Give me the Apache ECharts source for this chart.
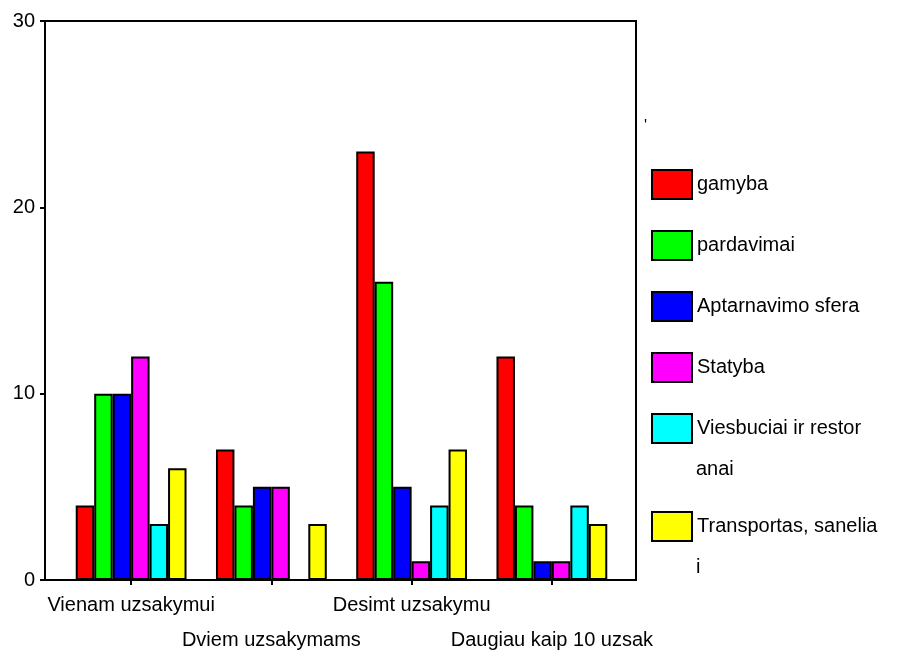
<!DOCTYPE html>
<html>
<head>
<meta charset="utf-8">
<script src="https://cdn.jsdelivr.net/npm/echarts@6/dist/echarts.min.js"></script>
<style>
  html, body { margin: 0; padding: 0; background: #fff; }
  #chart { width: 897px; height: 652px; }
</style>
</head>
<body>
<div id="chart"></div>
<script>
// Order counts by sector and number of orders
const categories = ['Vienam uzsakymui', 'Dviem uzsakymams', 'Desimt uzsakymu', 'Daugiau kaip 10 uzsak'];
const seriesNames = ['gamyba', 'pardavimai', 'Aptarnavimo sfera', 'Statyba', 'Viesbuciai ir restoranai', 'Transportas, sanelia i'];
const legendFirstLines = ['gamyba', 'pardavimai', 'Aptarnavimo sfera', 'Statyba', 'Viesbuciai ir restor', 'Transportas, sanelia'];
const gamyba = [4, 7, 23, 12];
const pardavimai = [10, 4, 16, 4];
const aptarnavimo = [10, 5, 5, 1];
const statyba = [12, 5, 1, 1];
const viesbuciai = [3, 0, 4, 4];
const transportas = [6, 3, 7, 3];
const yTicks = [0, 10, 20, 30];

const seriesValues = [gamyba, pardavimai, aptarnavimo, statyba, viesbuciai, transportas];
const colors = ['#ff0000', '#00ff00', '#0000ff', '#ff00ff', '#00ffff', '#ffff00'];
const FONT = 'Liberation Sans, Arial, sans-serif';

const chart = echarts.init(document.getElementById('chart'));

const series = seriesNames.map((name, i) => ({
  name: name,
  type: 'bar',
  xAxisIndex: 1,
  yAxisIndex: 1,
  barGap: '0%',
  barCategoryGap: '21%',
  data: seriesValues[i],
  itemStyle: { color: colors[i], borderColor: '#000', borderWidth: 2 },
  emphasis: { disabled: true }
}));

const legendLabel = name => legendFirstLines[seriesNames.indexOf(name)];
const legendCommon = {
  orient: 'vertical',
  left: 651,
  padding: 0,
  itemWidth: 40,
  itemHeight: 29,
  itemGap: 30,
  icon: 'rect',
  formatter: legendLabel,
  itemStyle: { borderColor: '#000', borderWidth: 2 },
  textStyle: { fontFamily: FONT, fontSize: 20, color: '#000' }
};

chart.setOption({
  backgroundColor: '#fff',
  animation: false,
  grid: [
    { left: 45, top: 21, width: 591, height: 559, outerBoundsMode: 'none', show: true, borderColor: '#000', borderWidth: 2, backgroundColor: 'transparent' },
    { left: 61, top: 21, width: 561, height: 559, outerBoundsMode: 'none' }
  ],
  xAxis: [
    { type: 'value', gridIndex: 0, min: 0, max: 1, show: false },
    {
      type: 'category', gridIndex: 1, data: categories,
      axisLine: { show: false },
      axisTick: { show: true, interval: 0, alignWithLabel: true, length: 5, lineStyle: { color: '#000', width: 2 } },
      axisLabel: {
        interval: 0,
        hideOverlap: false,
        margin: 8,
        fontFamily: FONT, fontSize: 20, color: '#000', lineHeight: 35,
        formatter: (v, idx) => (idx % 2 === 1 ? '\n' + v : v)
      }
    }
  ],
  yAxis: [
    {
      type: 'value', gridIndex: 0, min: 0, max: 30, interval: 10,
      axisLine: { show: true, lineStyle: { color: '#000', width: 2 } },
      axisTick: { show: true, length: 5, lineStyle: { color: '#000', width: 2 } },
      axisLabel: {
        margin: 10, fontFamily: FONT, fontSize: 20, color: '#000',
        formatter: v => (yTicks.includes(v) ? String(v) : '')
      },
      splitLine: { show: false }
    },
    { type: 'value', gridIndex: 1, min: 0, max: 30, show: false }
  ],
  legend: [
    Object.assign({ top: 169, data: seriesNames.slice(0, 5) }, legendCommon),
    Object.assign({ top: 511, data: seriesNames.slice(5) }, legendCommon)
  ],
  graphic: [
    { type: 'text', left: 696, top: 459, style: { text: 'anai', font: '20px ' + FONT, fill: '#000' } },
    { type: 'text', left: 696, top: 557, style: { text: 'i', font: '20px ' + FONT, fill: '#000' } },
    { type: 'text', left: 644, top: 119, style: { text: "'", font: '16px ' + FONT, fill: '#000' } }
  ],
  series: series
});
</script>
</body>
</html>
